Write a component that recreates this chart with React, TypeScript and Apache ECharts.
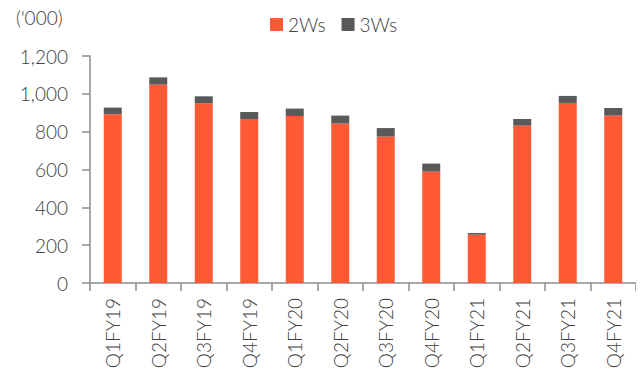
import React, { useEffect, useRef } from "react";
import * as echarts from "echarts";

// Quarterly volumes, thousands of units
const quarters = [
  "Q1FY19", "Q2FY19", "Q3FY19", "Q4FY19",
  "Q1FY20", "Q2FY20", "Q3FY20", "Q4FY20",
  "Q1FY21", "Q2FY21", "Q3FY21", "Q4FY21",
];
const twoWheelers = [892, 1049, 950, 865, 883, 843, 774, 589, 255, 832, 952, 885];
const threeWheelers = [35, 38, 37, 39, 39, 42, 45, 42, 9, 35, 37, 40];
const yTicks = { min: 0, max: 1200, interval: 200 };

const FONT = "Lato, 'Noto Sans', sans-serif";
const TEXT = "#404040";
const AXIS = "#8c8c8c";

export default function App() {
  const ref = useRef<HTMLDivElement>(null);

  useEffect(() => {
    if (!ref.current) return;
    const chart = echarts.init(ref.current, null, { renderer: "svg" });
    chart.setOption({
      animation: false,
      backgroundColor: "#ffffff",
      textStyle: { fontFamily: FONT, color: TEXT },
      legend: {
        left: 265,
        top: 10,
        itemWidth: 13,
        itemHeight: 13,
        itemGap: 16,
        icon: "rect",
        textStyle: { fontFamily: FONT, fontSize: 19, color: TEXT, fontWeight: 300 },
        data: ["2Ws", "3Ws"],
      },
      graphic: [
        {
          type: "text",
          left: 16,
          top: 8,
          style: {
            text: "('000)",
            fontFamily: FONT,
            fontSize: 19,
            fontWeight: 300,
            fill: TEXT,
          },
        },
      ],
      grid: { left: 90, right: 8, top: 56, bottom: 96, containLabel: false },
      xAxis: {
        type: "category",
        data: quarters,
        boundaryGap: true,
        axisLine: { lineStyle: { color: AXIS, width: 1.5 } },
        axisTick: { show: true, length: 8, lineStyle: { color: AXIS, width: 1.5 } },
        axisLabel: {
          rotate: 90,
          margin: 15,
          interval: 0,
          fontFamily: FONT,
          fontSize: 19,
          fontWeight: 300,
          color: TEXT,
        },
      },
      yAxis: {
        type: "value",
        min: yTicks.min,
        max: yTicks.max,
        interval: yTicks.interval,
        splitLine: { show: false },
        axisLine: { show: true, lineStyle: { color: AXIS, width: 1.5 } },
        axisTick: { show: true, length: 8, lineStyle: { color: AXIS, width: 1.5 } },
        axisLabel: {
          margin: 22,
          fontFamily: FONT,
          fontSize: 19,
          fontWeight: 300,
          color: TEXT,
          formatter: (v: number) => v.toLocaleString("en-US"),
        },
      },
      series: [
        {
          name: "2Ws",
          type: "bar",
          stack: "total",
          data: twoWheelers,
          barWidth: 18,
          itemStyle: { color: "#ff5a35" },
        },
        {
          name: "3Ws",
          type: "bar",
          stack: "total",
          data: threeWheelers,
          barWidth: 18,
          itemStyle: { color: "#595959" },
        },
      ],
    });
    return () => chart.dispose();
  }, []);

  return <div ref={ref} style={{ width: 644, height: 379, margin: -8 }} />;
}
